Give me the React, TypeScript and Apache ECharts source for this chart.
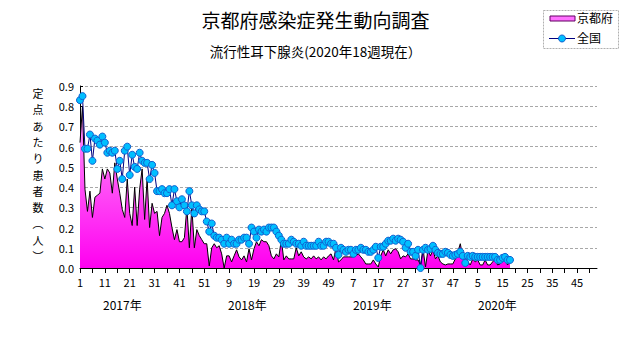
import React, { useEffect, useRef } from "react";
import * as echarts from "echarts";

const years = [2017, 2018, 2019, 2020];
const weeksPerYear = [52, 52, 52, 53];
const yearLabels = ["2017年", "2018年", "2019年", "2020年"];
const seriesNames = ["京都府", "全国"];
const titleText = "京都府感染症発生動向調査";
const subtitleText = "流行性耳下腺炎(2020年18週現在）";
const yAxisName = ["定", "点", "あ", "た", "り", "患", "者", "数", "︵", "人", "︶"];

// Kyoto (per sentinel) 2017w1 .. 2020w18
const kyoto = [
  0.62, 0.8, 0.39, 0.28, 0.38, 0.25, 0.35, 0.36, 0.37, 0.49,
  0.44, 0.49, 0.47, 0.37, 0.52, 0.44, 0.37, 0.29, 0.25, 0.44,
  0.27, 0.21, 0.4, 0.21, 0.39, 0.49, 0.24, 0.44, 0.2, 0.32,
  0.27, 0.28, 0.16, 0.25, 0.27, 0.31, 0.27, 0.2, 0.14, 0.19,
  0.13, 0.13, 0.15, 0.3, 0.1, 0.3, 0.1, 0.19, 0.16, 0.14,
  0.12, 0.12, 0.01, 0.1, 0.12, 0.1, 0.11, 0.07, 0.0, 0.06,
  0.06, 0.03, 0.06, 0.09, 0.055, 0.04, 0.06, 0.03, 0.095, 0.04,
  0.095, 0.13, 0.11, 0.14, 0.13, 0.13, 0.11, 0.06, 0.045, 0.07,
  0.055, 0.14, 0.04, 0.06, 0.045, 0.045, 0.045, 0.1, 0.06, 0.08,
  0.055, 0.045, 0.055, 0.045, 0.06, 0.045, 0.055, 0.04, 0.055, 0.045,
  0.06, 0.07, 0.04, 0.1, 0.03, 0.04, 0.055, 0.055, 0.055, 0.055,
  0.055, 0.06, 0.07, 0.055, 0.04, 0.02, 0.02, 0.02, 0.04, 0.02,
  0.005, 0.06, 0.09, 0.06, 0.09, 0.07, 0.09, 0.095, 0.08, 0.045,
  0.06, 0.055, 0.07, 0.045, 0.045, 0.04, 0.04, 0.015, 0.095, 0.005,
  0.09, 0.06, 0.09, 0.045, 0.06, 0.03, 0.02, 0.015, 0.02, 0.02,
  0.02, 0.045, 0.08, 0.12, 0.055, 0.06, 0.03, 0.015, 0.045, 0.03,
  0.04, 0.015, 0.015, 0.04, 0.015, 0.015, 0.03, 0.045, 0.015, 0.02,
  0.04, 0.045, 0.015, 0.03,
];

// National (per sentinel) 2017w1 .. 2020w18
const national = [
  0.83, 0.85, 0.59, 0.59, 0.66, 0.53, 0.64, 0.63, 0.61, 0.65,
  0.62, 0.57, 0.58, 0.57, 0.58, 0.49, 0.53, 0.44, 0.58, 0.6,
  0.46, 0.56, 0.5, 0.49, 0.57, 0.53, 0.52, 0.52, 0.44, 0.51,
  0.47, 0.38, 0.38, 0.39, 0.37, 0.37, 0.39, 0.31, 0.39, 0.33,
  0.3, 0.34, 0.31, 0.28, 0.38, 0.31, 0.27, 0.31, 0.29, 0.28,
  0.28, 0.23, 0.18, 0.22, 0.16, 0.15, 0.15, 0.14, 0.12, 0.15,
  0.12, 0.14, 0.12, 0.12, 0.14, 0.14, 0.15, 0.15, 0.12, 0.2,
  0.18, 0.15, 0.19, 0.18, 0.19, 0.18, 0.2, 0.2, 0.2, 0.18,
  0.16, 0.14, 0.12, 0.12, 0.12, 0.14, 0.13, 0.12, 0.12, 0.11,
  0.13, 0.11, 0.11, 0.11, 0.11, 0.11, 0.13, 0.11, 0.11, 0.13,
  0.13, 0.12, 0.12, 0.1, 0.065, 0.1, 0.09, 0.08, 0.09, 0.09,
  0.07, 0.09, 0.09, 0.1, 0.09, 0.09, 0.08, 0.08, 0.09, 0.105,
  0.05, 0.105, 0.105, 0.12, 0.135, 0.135, 0.145, 0.135, 0.145, 0.14,
  0.13, 0.1, 0.12, 0.08, 0.08, 0.06, 0.09, 0.0, 0.09, 0.1,
  0.09, 0.095, 0.11, 0.09, 0.075, 0.07, 0.07, 0.08, 0.075, 0.065,
  0.06, 0.065, 0.07, 0.08, 0.06, 0.025, 0.06, 0.055, 0.06, 0.055,
  0.055, 0.055, 0.055, 0.055, 0.055, 0.055, 0.055, 0.055, 0.04, 0.04,
  0.05, 0.055, 0.04, 0.04,
];

const categories: string[] = [];
years.forEach((y, k) => {
  for (let w = 1; w <= weeksPerYear[k]; w++) categories.push(`${y}-${w}`);
});

const FONT = "'Noto Sans CJK JP', 'Noto Sans', sans-serif";

export default function App() {
  const ref = useRef<HTMLDivElement>(null);
  useEffect(() => {
    if (!ref.current) return;
    const chart = echarts.init(ref.current, undefined, { renderer: "svg" });
    const yearX = [103, 228, 353, 478];
    chart.setOption({
      animation: false,
      backgroundColor: "#ffffff",
      textStyle: { fontFamily: FONT },
      grid: { left: 80, right: 34, top: 86, bottom: 79 },
      xAxis: {
        type: "category",
        data: categories,
        boundaryGap: false,
        axisLine: { lineStyle: { color: "#000", width: 1 } },
        axisTick: { interval: 4, length: 5, lineStyle: { color: "#000" } },
        axisLabel: {
          interval: 9,
          color: "#000",
          fontSize: 11,
          margin: 8,
          fontFamily: FONT,
          formatter: (v: string) => v.split("-")[1],
        },
        splitLine: { show: false },
      },
      yAxis: {
        type: "value",
        min: 0,
        max: 0.9,
        interval: 0.1,
        axisLine: { show: true, lineStyle: { color: "#000" } },
        axisTick: { show: true, inside: true, length: 3, lineStyle: { color: "#000" } },
        axisLabel: {
          color: "#000",
          fontSize: 11,
          margin: 6,
          fontFamily: FONT,
          formatter: (v: number) => v.toFixed(1),
        },
        splitLine: { show: true, lineStyle: { color: "#a8a8a8", type: [3, 2], width: 1 } },
      },
      series: [
        {
          name: seriesNames[0],
          type: "line",
          data: kyoto,
          showSymbol: false,
          symbol: "none",
          lineStyle: { color: "#000", width: 1 },
          areaStyle: {
            opacity: 1,
            color: new echarts.graphic.LinearGradient(0, 86, 0, 268, [
              { offset: 0, color: "#ffb0ff" },
              { offset: 1, color: "#ff00f0" },
            ], true),
          },
          z: 2,
        },
        {
          name: seriesNames[1],
          type: "line",
          data: national,
          symbol: "circle",
          symbolSize: 7,
          showSymbol: true,
          showAllSymbol: true,
          lineStyle: { color: "#000080", width: 1 },
          itemStyle: { color: "#00bfff", borderColor: "#1060d0", borderWidth: 1 },
          z: 3,
        },
      ],
      graphic: [
        {
          type: "text",
          left: "center",
          top: 10,
          style: { text: titleText, fontSize: 19, fill: "#000", fontFamily: FONT },
        },
        {
          type: "text",
          left: "center",
          top: 44,
          style: { text: subtitleText, fontSize: 13.5, fill: "#000", fontFamily: FONT },
        },
        ...yAxisName.map((c, k) => ({
          type: "text",
          x: 38,
          y: 93 + k * 16.3,
          style: {
            text: c,
            fontSize: 11,
            fill: "#000",
            fontFamily: FONT,
            align: "center",
            verticalAlign: "middle",
          },
        })),
        ...yearLabels.map((t, k) => ({
          type: "text",
          x: yearX[k],
          y: 298,
          style: { text: t, fontSize: 12, fill: "#000", fontFamily: FONT },
        })),
        {
          type: "rect",
          shape: { x: 543.5, y: 10.5, width: 75, height: 38 },
          style: { fill: "#fff", stroke: "#b0b0b0", lineWidth: 1, lineDash: [2, 1] },
        },
        {
          type: "rect",
          shape: { x: 550, y: 16, width: 25, height: 5 },
          style: { fill: "#ff70ff", stroke: "#600060", lineWidth: 1 },
        },
        {
          type: "text",
          x: 577,
          y: 11,
          style: { text: seriesNames[0], fontSize: 12, fill: "#000", fontFamily: FONT },
        },
        {
          type: "line",
          shape: { x1: 549, y1: 38.5, x2: 575, y2: 38.5 },
          style: { stroke: "#000080", lineWidth: 1 },
        },
        {
          type: "circle",
          shape: { cx: 562, cy: 38.5, r: 3.5 },
          style: { fill: "#00bfff", stroke: "#1060d0", lineWidth: 1 },
        },
        {
          type: "text",
          x: 577,
          y: 31,
          style: { text: seriesNames[1], fontSize: 12, fill: "#000", fontFamily: FONT },
        },
      ],
    });
    return () => chart.dispose();
  }, []);
  return (
    <div
      ref={ref}
      style={{ position: "fixed", left: 0, top: 0, width: 631, height: 347 }}
    />
  );
}
